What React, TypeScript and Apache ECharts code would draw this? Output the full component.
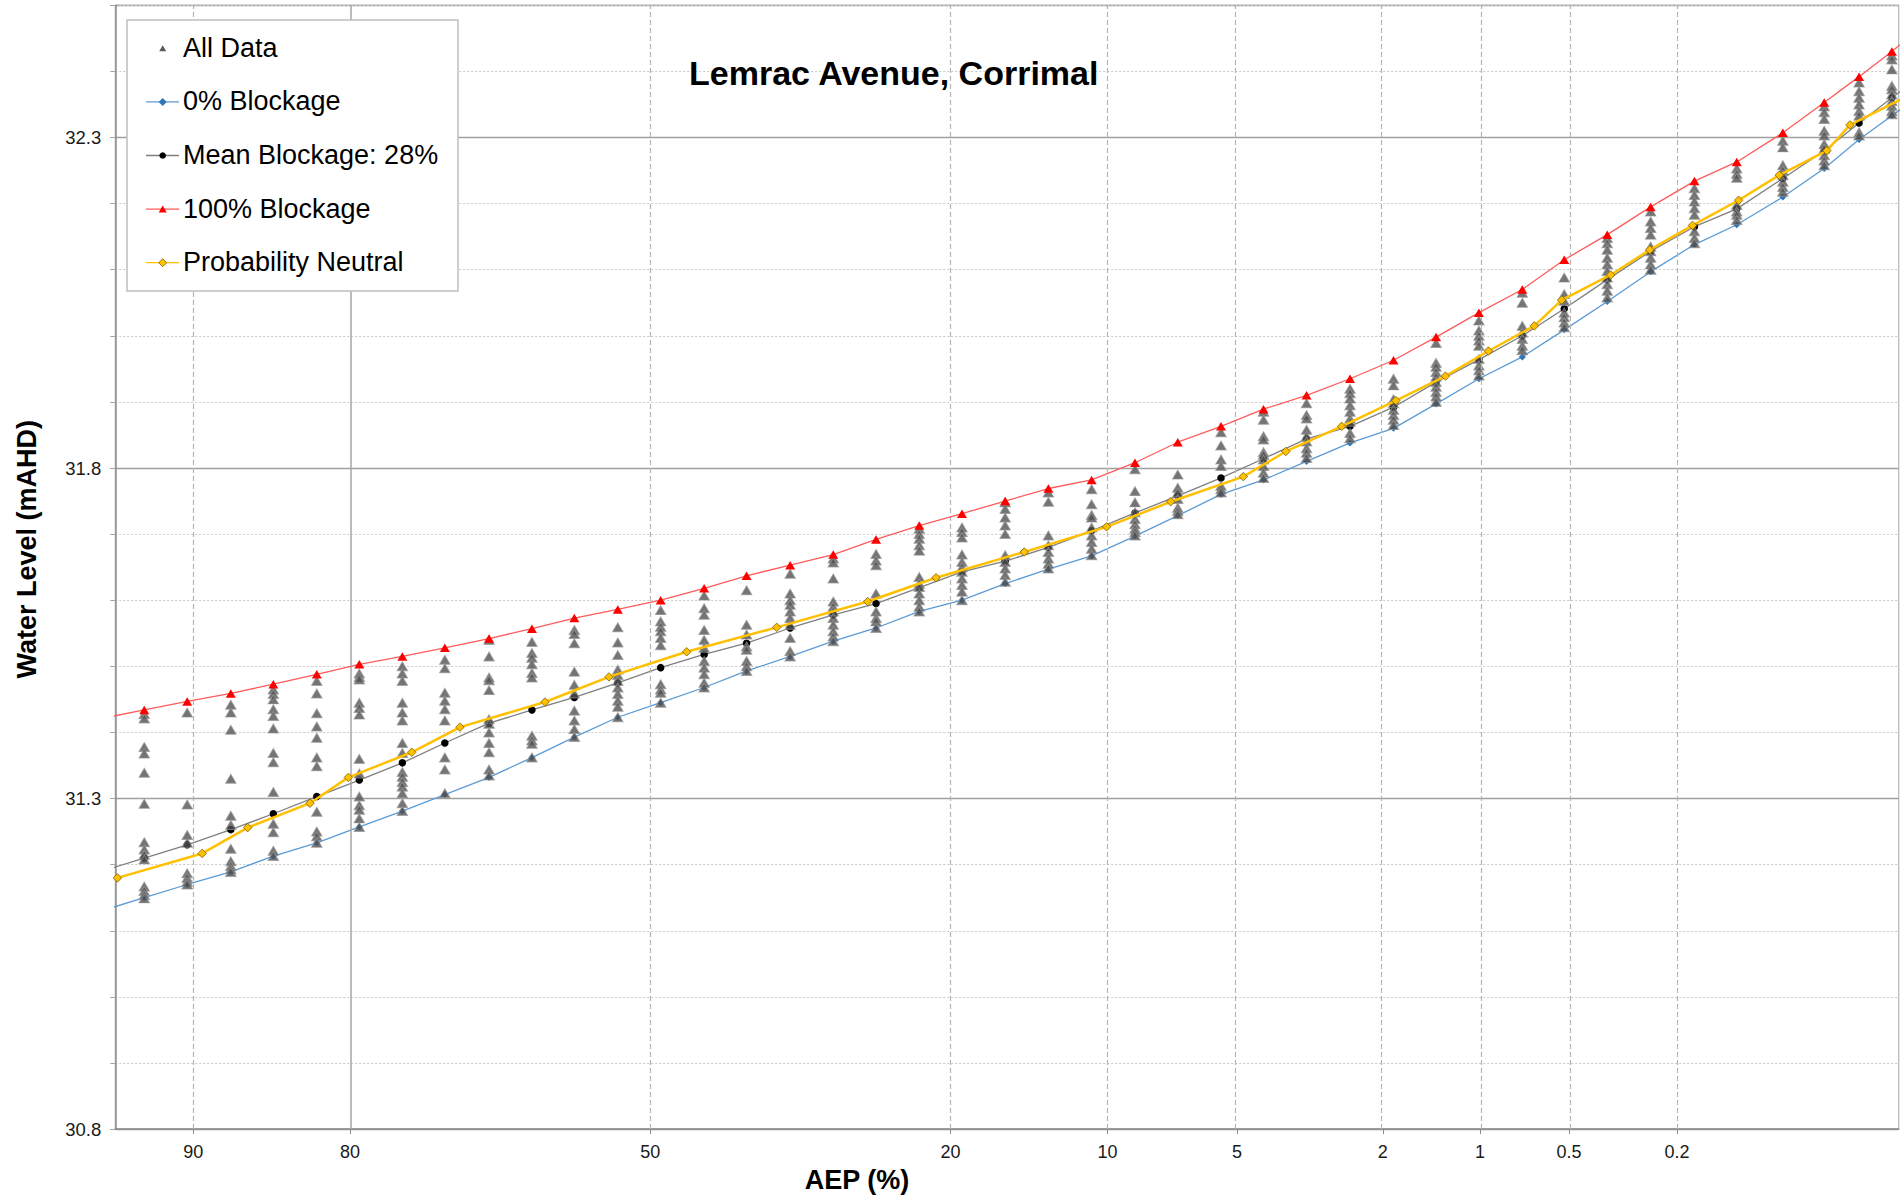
import React, { useEffect, useRef } from "react";
import * as echarts from "echarts";

// ---------- text ----------
const TITLE = "Lemrac Avenue, Corrimal";
const X_NAME = "AEP (%)";
const Y_NAME = "Water Level (mAHD)";
const FONT = "'Liberation Sans', Arial, sans-serif";

// ---------- axes ----------
const TICK_AEP = [90, 80, 50, 20, 10, 5, 2, 1, 0.5, 0.2];
const TICK_LABELS = ["90", "80", "50", "20", "10", "5", "2", "1", "0.5", "0.2"];
const Y_MIN = 30.8;
const Y_MAX = 32.5;

// ---------- data ----------
// AEP (%) of each modelled event (first and last are just beyond the plotted range)
const LINE_AEP = [
  93.82, 92.2, 90.29, 88.02, 85.47, 82.51, 79.27, 75.65, 71.77, 67.44, 63.0, 58.43, 53.63, 48.84, 44.0,
  39.36, 34.75, 30.4, 26.34, 22.54, 19.11, 15.99, 13.22, 10.8, 8.71, 6.96, 5.48, 4.28, 3.29, 2.49,
  1.86, 1.38, 1.009, 0.725, 0.52, 0.365, 0.252, 0.171, 0.116, 0.0749, 0.0499, 0.0351, 0.025, 0.0179,
];
const BLOCK_0 = [
  31.13, 31.15, 31.17, 31.189, 31.213, 31.233, 31.257, 31.281, 31.306, 31.332, 31.362, 31.393, 31.423, 31.445, 31.468,
  31.493, 31.515, 31.538, 31.558, 31.583, 31.6, 31.625, 31.647, 31.667, 31.697, 31.728, 31.76, 31.782, 31.81, 31.838,
  31.86, 31.897, 31.935, 31.968, 32.009, 32.052, 32.097, 32.138, 32.168, 32.21, 32.253, 32.297, 32.333, 32.367,
];
const MEAN_BLOCKAGE = [
  31.19, 31.21, 31.23, 31.253, 31.277, 31.303, 31.328, 31.354, 31.384, 31.414, 31.434, 31.453, 31.475, 31.498, 31.518,
  31.535, 31.558, 31.578, 31.595, 31.619, 31.643, 31.659, 31.68, 31.705, 31.732, 31.758, 31.785, 31.814, 31.844, 31.863,
  31.892, 31.93, 31.964, 32.0, 32.041, 32.085, 32.128, 32.165, 32.192, 32.238, 32.28, 32.322, 32.36, 32.396,
];
const BLOCK_100 = [
  31.421, 31.434, 31.447, 31.459, 31.473, 31.488, 31.503, 31.515, 31.528, 31.542, 31.557, 31.573, 31.586, 31.6, 31.618,
  31.637, 31.653, 31.669, 31.692, 31.713, 31.731, 31.75, 31.769, 31.782, 31.808, 31.839, 31.863, 31.889, 31.91, 31.935,
  31.963, 31.998, 32.035, 32.07, 32.115, 32.153, 32.195, 32.234, 32.263, 32.307, 32.353, 32.392, 32.43, 32.47,
];
// all ensemble results, one list per LINE_AEP entry
const ALL_DATA = [
  [],
  [31.428, 31.421, 31.378, 31.368, 31.339, 31.292, 31.234, 31.223, 31.215, 31.208, 31.167, 31.16, 31.154, 31.149],
  [31.43, 31.291, 31.245, 31.233, 31.187, 31.18, 31.174, 31.17],
  [31.442, 31.43, 31.404, 31.33, 31.274, 31.26, 31.224, 31.205, 31.198, 31.193, 31.189],
  [31.465, 31.458, 31.45, 31.435, 31.425, 31.406, 31.369, 31.355, 31.31, 31.262, 31.249, 31.221, 31.213],
  [31.478, 31.459, 31.429, 31.409, 31.392, 31.362, 31.349, 31.28, 31.25, 31.243, 31.233],
  [31.489, 31.484, 31.48, 31.445, 31.437, 31.427, 31.36, 31.338, 31.303, 31.29, 31.283, 31.27, 31.257],
  [31.5, 31.489, 31.478, 31.445, 31.43, 31.418, 31.384, 31.369, 31.34, 31.333, 31.325, 31.318, 31.308, 31.293, 31.281],
  [31.51, 31.497, 31.46, 31.448, 31.435, 31.418, 31.362, 31.344, 31.308],
  [31.54, 31.515, 31.483, 31.479, 31.464, 31.42, 31.413, 31.4, 31.384, 31.37, 31.344, 31.335],
  [31.537, 31.52, 31.513, 31.503, 31.49, 31.483, 31.395, 31.388, 31.383, 31.362],
  [31.555, 31.549, 31.535, 31.492, 31.472, 31.459, 31.433, 31.418, 31.405, 31.393],
  [31.559, 31.536, 31.517, 31.495, 31.487, 31.478, 31.468, 31.458, 31.448, 31.439, 31.423],
  [31.585, 31.568, 31.56, 31.553, 31.543, 31.532, 31.473, 31.465, 31.46, 31.445],
  [31.607, 31.588, 31.578, 31.555, 31.54, 31.528, 31.508, 31.498, 31.488, 31.475, 31.468],
  [31.615, 31.563, 31.548, 31.53, 31.525, 31.508, 31.5, 31.493],
  [31.64, 31.61, 31.6, 31.593, 31.583, 31.573, 31.563, 31.543, 31.523, 31.515],
  [31.663, 31.657, 31.633, 31.598, 31.59, 31.583, 31.573, 31.563, 31.553, 31.545, 31.538],
  [31.67, 31.66, 31.653, 31.61, 31.583, 31.573, 31.568, 31.558],
  [31.708, 31.7, 31.693, 31.683, 31.675, 31.635, 31.625, 31.62, 31.61, 31.6, 31.59, 31.583],
  [31.71, 31.703, 31.695, 31.669, 31.658, 31.65, 31.643, 31.633, 31.623, 31.613, 31.6],
  [31.748, 31.738, 31.725, 31.713, 31.7, 31.668, 31.658, 31.648, 31.638, 31.628],
  [31.763, 31.749, 31.698, 31.683, 31.673, 31.663, 31.655, 31.648],
  [31.768, 31.745, 31.729, 31.725, 31.71, 31.698, 31.688, 31.678, 31.668],
  [31.798, 31.765, 31.748, 31.733, 31.723, 31.715, 31.708, 31.703, 31.698],
  [31.79, 31.77, 31.763, 31.753, 31.74, 31.735, 31.73],
  [31.854, 31.834, 31.813, 31.803, 31.773, 31.768, 31.763],
  [31.885, 31.873, 31.848, 31.843, 31.824, 31.82, 31.813, 31.803, 31.793, 31.785],
  [31.898, 31.88, 31.875, 31.858, 31.848, 31.84, 31.83, 31.823, 31.815],
  [31.92, 31.913, 31.905, 31.895, 31.885, 31.875, 31.87, 31.853, 31.845],
  [31.935, 31.925, 31.904, 31.898, 31.888, 31.88, 31.873, 31.865],
  [31.989, 31.959, 31.953, 31.945, 31.938, 31.93, 31.923, 31.915, 31.908, 31.9],
  [32.023, 32.008, 32.0, 31.993, 31.985, 31.965, 31.955, 31.948, 31.94],
  [32.065, 32.05, 32.015, 32.005, 31.995, 31.985, 31.978],
  [32.088, 32.063, 32.053, 32.035, 32.028, 32.02, 32.013],
  [32.148, 32.14, 32.13, 32.118, 32.108, 32.098, 32.088, 32.078, 32.068, 32.058],
  [32.188, 32.173, 32.163, 32.153, 32.135, 32.128, 32.118, 32.108, 32.1],
  [32.223, 32.213, 32.203, 32.193, 32.183, 32.158, 32.148, 32.14],
  [32.253, 32.245, 32.239, 32.198, 32.188, 32.183, 32.175],
  [32.295, 32.285, 32.258, 32.25, 32.243, 32.233, 32.225, 32.218],
  [32.347, 32.338, 32.328, 32.31, 32.303, 32.29, 32.283, 32.273, 32.265, 32.258],
  [32.383, 32.37, 32.36, 32.35, 32.34, 32.333, 32.308, 32.303],
  [32.424, 32.418, 32.403, 32.378, 32.373, 32.365, 32.355, 32.348, 32.34, 32.335],
  [],
];
// probability-neutral curve (levels with their AEP)
const NEUTRAL_AEP = [
  93.24, 89.55, 87.05, 83.0, 80.14, 74.82, 70.32, 61.61, 54.61, 45.94, 36.15, 27.11, 21.16, 14.72, 10.04, 7.23,
  4.82, 3.74, 2.63, 1.83, 1.29, 0.939, 0.66, 0.531, 0.355, 0.254, 0.174, 0.114, 0.0775, 0.0486, 0.0385, 0.0208,
];
const NEUTRAL_LEVEL = [
  31.18, 31.217, 31.256, 31.293, 31.332, 31.37, 31.408, 31.446, 31.484, 31.522, 31.559, 31.598, 31.634, 31.673, 31.711, 31.749,
  31.787, 31.825, 31.863, 31.902, 31.939, 31.977, 32.015, 32.054, 32.092, 32.13, 32.167, 32.205, 32.243, 32.28, 32.319, 32.364,
];

// ---------- probability scale (normal variate) ----------
function normInv(p: number): number {
  const a = [-3.969683028665376e1, 2.209460984245205e2, -2.759285104469687e2, 1.38357751867269e2, -3.066479806614716e1, 2.506628277459239];
  const b = [-5.447609879822406e1, 1.615858368580409e2, -1.556989798598866e2, 6.680131188771972e1, -1.328068155288572e1];
  const c = [-7.784894002430293e-3, -3.223964580411365e-1, -2.400758277161838, -2.549732539343734, 4.374664141464968, 2.938163982698783];
  const d = [7.784695709041462e-3, 3.224671290700398e-1, 2.445134137142996, 3.754408661907416];
  const plow = 0.02425;
  const phigh = 1 - plow;
  if (p < plow) {
    const q = Math.sqrt(-2 * Math.log(p));
    return (((((c[0] * q + c[1]) * q + c[2]) * q + c[3]) * q + c[4]) * q + c[5]) / ((((d[0] * q + d[1]) * q + d[2]) * q + d[3]) * q + 1);
  }
  if (p <= phigh) {
    const q = p - 0.5;
    const r = q * q;
    return ((((((a[0] * r + a[1]) * r + a[2]) * r + a[3]) * r + a[4]) * r + a[5]) * q) / (((((b[0] * r + b[1]) * r + b[2]) * r + b[3]) * r + b[4]) * r + 1);
  }
  const q = Math.sqrt(-2 * Math.log(1 - p));
  return -(((((c[0] * q + c[1]) * q + c[2]) * q + c[3]) * q + c[4]) * q + c[5]) / ((((d[0] * q + d[1]) * q + d[2]) * q + d[3]) * q + 1);
}
const aepToZ = (aep: number) => -normInv(aep / 100);

const W = 1904;
const H = 1198;

function buildOption() {
  const tickZ = TICK_AEP.map(aepToZ);
  const line = (vals: number[]) => LINE_AEP.map((a, i) => [aepToZ(a), vals[i]]);
  const scatter: number[][] = [];
  ALL_DATA.forEach((col, i) => col.forEach((v) => scatter.push([aepToZ(LINE_AEP[i]), v])));

  // legend (drawn as graphic)
  const rows = [47.7, 101.3, 154.9, 208.5, 262.1];
  const ix = 162.7;
  const legend: any[] = [
    { type: "rect", shape: { x: 127, y: 20, width: 331, height: 271 }, style: { fill: "#fff", stroke: "#bfbfbf", lineWidth: 1.5 }, z: 100 },
  ];
  const names = ["All Data", "0% Blockage", "Mean Blockage: 28%", "100% Blockage", "Probability Neutral"];
  names.forEach((n, i) => {
    legend.push({
      type: "text", x: 183, y: rows[i], z: 101,
      style: { text: n, font: `27px ${FONT}`, fill: "#000", verticalAlign: "middle", align: "left" },
    });
  });
  const lineIcon = (y: number, color: string) => ({
    type: "line", z: 101, shape: { x1: 146, y1: y, x2: 179, y2: y }, style: { stroke: color, lineWidth: 1.3 },
  });
  const tri = (y: number, color: string, w: number, h: number) => ({
    type: "polygon", z: 102,
    shape: { points: [[ix - w / 2, y + h / 2], [ix + w / 2, y + h / 2], [ix, y - h / 2]] },
    style: { fill: color },
  });
  const dia = (y: number, fill: string, r: number, stroke?: string) => ({
    type: "polygon", z: 102,
    shape: { points: [[ix, y - r], [ix + r, y], [ix, y + r], [ix - r, y]] },
    style: stroke ? { fill, stroke, lineWidth: 0.8 } : { fill },
  });
  const y0 = rows.map((r) => r + 0.6);
  legend.push(tri(y0[0], "#595959", 7, 6));
  legend.push(lineIcon(y0[1], "#5B9BD5"), dia(y0[1], "#2E75B6", 4));
  legend.push(lineIcon(y0[2], "#7F7F7F"), { type: "circle", z: 102, shape: { cx: ix, cy: y0[2], r: 3.3 }, style: { fill: "#000" } });
  legend.push(lineIcon(y0[3], "#FF5B5B"), tri(y0[3], "#FF0000", 8, 7));
  legend.push(lineIcon(y0[4], "#FFC000"), dia(y0[4], "#FFC000", 4, "#7F6000"));

  return {
    animation: false,
    textStyle: { fontFamily: FONT },
    title: {
      text: TITLE, left: 689, top: 56.3, padding: 0,
      textStyle: { fontSize: 34, fontWeight: "bold", color: "#000", fontFamily: FONT },
    },
    grid: { left: 115.25, width: 1783.5, top: 5.25, height: 1133.05, show: true, borderColor: "#a6a6a6", borderWidth: 1 },
    xAxis: {
      type: "value", min: -1.5, max: 3.5,
      name: X_NAME, nameLocation: "middle", nameGap: 28,
      nameTextStyle: { fontSize: 27, fontWeight: "bold", color: "#000", fontFamily: FONT, padding: [0, 300, 0, 0] },
      axisLine: { show: true, onZero: false, lineStyle: { color: "#8c8c8c", width: 1.5 } },
      axisTick: { show: true, customValues: tickZ, length: 5, lineStyle: { color: "#8c8c8c" } },
      axisLabel: {
        customValues: tickZ, margin: 14, fontSize: 18, color: "#1a1a1a", fontFamily: FONT,
        formatter: (v: number) => {
          const i = tickZ.findIndex((t) => Math.abs(t - v) < 1e-6);
          return i >= 0 ? TICK_LABELS[i] : "";
        },
      },
      splitLine: { show: false },
    },
    yAxis: [
      {
        type: "value", min: Y_MIN, max: Y_MAX, interval: 0.5,
        name: Y_NAME, nameLocation: "middle", nameGap: 75,
        nameTextStyle: { fontSize: 27, fontWeight: "bold", color: "#000", fontFamily: FONT, padding: [0, 0, 0, 36] },
        axisLine: { show: true, onZero: false, lineStyle: { color: "#8c8c8c", width: 1.5 } },
        axisTick: { show: true, length: 5, lineStyle: { color: "#8c8c8c" } },
        axisLabel: {
          margin: 14, fontSize: 18.5, color: "#1a1a1a", fontFamily: FONT,
          formatter: (v: number) => (Math.abs(v - Y_MAX) < 1e-6 ? "" : v.toFixed(1)),
        },
        splitLine: { show: true, lineStyle: { color: "#a0a0a0", width: 1.3 } },
      },
      {
        type: "value", min: Y_MIN, max: Y_MAX, interval: 0.1, position: "left",
        axisLine: { show: false, onZero: false },
        axisTick: { show: true, length: 5, lineStyle: { color: "#a6a6a6" } },
        axisLabel: { show: false },
        splitLine: {
          show: true,
          lineStyle: { color: ["rgba(0,0,0,0)", "#c8c8c8", "#c8c8c8", "#c8c8c8", "#c8c8c8"], type: [2, 2], width: 1 },
        },
      },
    ],
    series: [
      {
        type: "line", name: "grid", data: [], silent: true, z: 1,
        markLine: {
          silent: true, symbol: ["none", "none"], label: { show: false }, animation: false,
          data: TICK_AEP.map((a) => ({
            xAxis: aepToZ(a),
            lineStyle: a === 80 ? { type: "solid", color: "#a6a6a6", width: 1.5 } : { type: [5, 3], color: "#b4b4b4", width: 1.2 },
          })),
        },
      },
      {
        type: "line", name: "0% Blockage", data: line(BLOCK_0), z: 2,
        lineStyle: { color: "#5B9BD5", width: 1.3 }, symbol: "diamond", symbolSize: 7,
        itemStyle: { color: "#2E75B6" },
      },
      {
        type: "line", name: "Mean Blockage: 28%", data: line(MEAN_BLOCKAGE), z: 3,
        lineStyle: { color: "#7F7F7F", width: 1.3 }, symbol: "circle", symbolSize: 7.5,
        itemStyle: { color: "#000" },
      },
      {
        type: "scatter", name: "All Data", data: scatter, z: 4,
        symbol: "triangle", symbolSize: [10.5, 9],
        itemStyle: { color: "#515151", borderColor: "rgba(150,150,150,0.9)", borderWidth: 1 },
      },
      {
        type: "line", name: "100% Blockage", data: line(BLOCK_100), z: 5,
        lineStyle: { color: "#FF5B5B", width: 1.3 }, symbol: "triangle", symbolSize: [10, 8.5],
        itemStyle: { color: "#FF0000" },
      },
      {
        type: "line", name: "Probability Neutral", z: 6,
        data: NEUTRAL_AEP.map((a, i) => [aepToZ(a), NEUTRAL_LEVEL[i]]),
        lineStyle: { color: "#FFC000", width: 2.5 }, symbol: "diamond", symbolSize: 8.5,
        itemStyle: { color: "#FFC000", borderColor: "#7F6000", borderWidth: 0.8 },
      },
    ],
    graphic: legend,
  };
}

export default function App() {
  const ref = useRef<HTMLDivElement>(null);
  useEffect(() => {
    document.body.style.margin = "0";
    const chart = echarts.init(ref.current as HTMLDivElement, null, { renderer: "svg", width: W, height: H });
    chart.setOption(buildOption() as any);
    return () => chart.dispose();
  }, []);
  return (
    <div
      ref={ref}
      style={{ position: "fixed", left: 0, top: 0, width: W, height: H, background: "#fff" }}
    />
  );
}
